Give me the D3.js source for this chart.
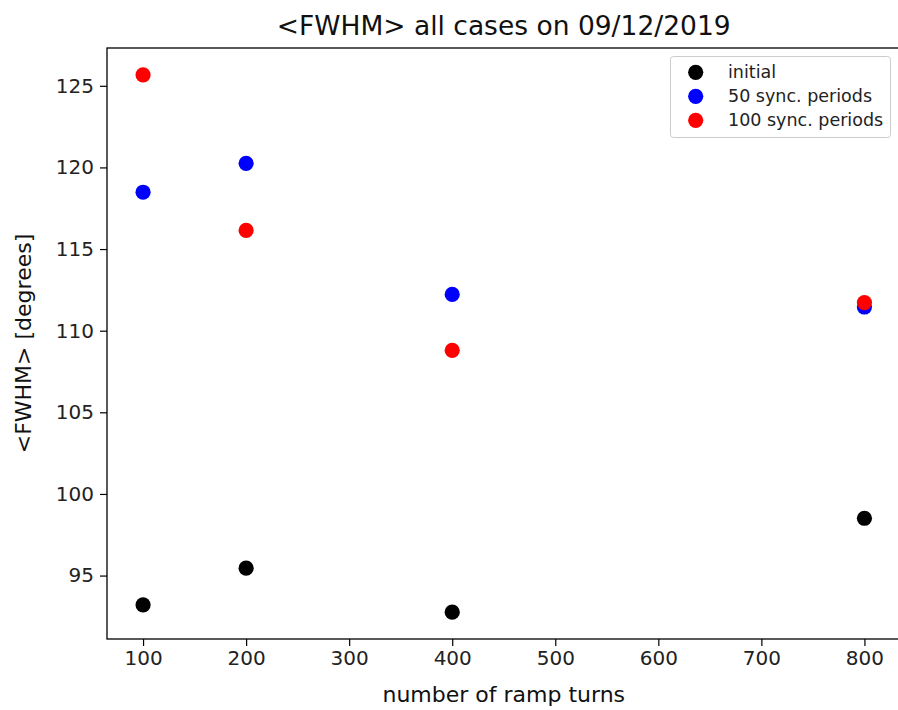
<!DOCTYPE html>
<html>
<head>
<meta charset="utf-8">
<script src="https://cdn.jsdelivr.net/npm/d3@7"></script>
<style>
  html, body { margin: 0; padding: 0; background: #fff; }
  svg { display: block; font-family: "DejaVu Sans", sans-serif; }
</style>
</head>
<body>
<svg id="chart" width="898" height="710"></svg>
<script>
// Ramp lengths (turns) and mean FWHM values (degrees) per case
const rampTurns = [100, 200, 400, 800];
const fwhmInitial = [93.21, 95.45, 92.76, 98.51];
const fwhmSync50 = [118.48, 120.25, 112.22, 111.45];
const fwhmSync100 = [125.67, 116.14, 108.80, 111.72];

const seriesNames = ["initial", "50 sync. periods", "100 sync. periods"];
const seriesColors = ["#000000", "#0000ff", "#ff0000"];
const seriesValues = [fwhmInitial, fwhmSync50, fwhmSync100];

const xTicks = [100, 200, 300, 400, 500, 600, 700, 800];
const yTicks = [95, 100, 105, 110, 115, 120, 125];

const titleText = "<FWHM> all cases on 09/12/2019";
const xLabelText = "number of ramp turns";
const yLabelText = "<FWHM> [degrees]";

const svg = d3.select("#chart");
const plotLeft = 107, plotRight = 900.5, plotTop = 48, plotBottom = 639;

// 5% padding around the data extent on both axes
function padded(vals) {
  const [lo, hi] = d3.extent(vals);
  const m = (hi - lo) * 0.05;
  return [lo - m, hi + m];
}
const x = d3.scaleLinear().domain(padded(rampTurns)).range([plotLeft, plotRight]);
const y = d3.scaleLinear().domain(padded(seriesValues.flat())).range([plotBottom, plotTop]);

const tickFont = 20;

// Axes
const xAxis = svg.append("g")
  .attr("transform", `translate(0,${plotBottom})`)
  .call(d3.axisBottom(x).tickValues(xTicks).tickSize(7).tickPadding(5).tickFormat(d3.format("d")));
const yAxis = svg.append("g")
  .attr("transform", `translate(${plotLeft},0)`)
  .call(d3.axisLeft(y).tickValues(yTicks).tickSize(7).tickPadding(6).tickFormat(d3.format("d")));
[xAxis, yAxis].forEach(g => {
  g.select(".domain").remove();
  g.selectAll(".tick line").attr("stroke", "#000").attr("stroke-width", 1.2);
  g.selectAll(".tick text").attr("fill", "#222").style("font-size", tickFont + "px")
    .style("font-family", "DejaVu Sans, sans-serif");
});

// Frame (spines)
svg.append("rect")
  .attr("x", plotLeft).attr("y", plotTop)
  .attr("width", plotRight - plotLeft).attr("height", plotBottom - plotTop)
  .attr("fill", "none").attr("stroke", "#000").attr("stroke-width", 1.3);

// Scatter points
const plot = svg.append("g");
seriesValues.forEach((vals, si) => {
  plot.selectAll(null)
    .data(rampTurns.map((t, i) => ({ t, v: vals[i] })))
    .enter().append("circle")
    .attr("cx", d => x(d.t))
    .attr("cy", d => y(d.v))
    .attr("r", 7.6)
    .attr("fill", seriesColors[si]);
});

// Title and axis labels
svg.append("text")
  .attr("x", (plotLeft + plotRight) / 2).attr("y", 35)
  .attr("text-anchor", "middle").attr("fill", "#111")
  .style("font-size", "26.5px").text(titleText);
svg.append("text")
  .attr("x", (plotLeft + plotRight) / 2).attr("y", 702)
  .attr("text-anchor", "middle").attr("fill", "#111")
  .style("font-size", "22px").text(xLabelText);
svg.append("text")
  .attr("transform", `translate(31,${(plotTop + plotBottom) / 2}) rotate(-90)`)
  .attr("text-anchor", "middle").attr("fill", "#111")
  .style("font-size", "22px").text(yLabelText);

// Legend
const lg = svg.append("g");
lg.append("rect")
  .attr("x", 670.5).attr("y", 56.5).attr("width", 220).attr("height", 81)
  .attr("rx", 3).attr("fill", "#fff").attr("fill-opacity", 0.8)
  .attr("stroke", "#cccccc").attr("stroke-width", 1);
seriesNames.forEach((name, i) => {
  const cy = 72.3 + i * 24;
  lg.append("circle").attr("cx", 695.7).attr("cy", cy).attr("r", 7.6).attr("fill", seriesColors[i]);
  lg.append("text").attr("x", 728).attr("y", cy + 6)
    .attr("fill", "#222").style("font-size", "17.5px").text(name);
});
</script>
</body>
</html>
